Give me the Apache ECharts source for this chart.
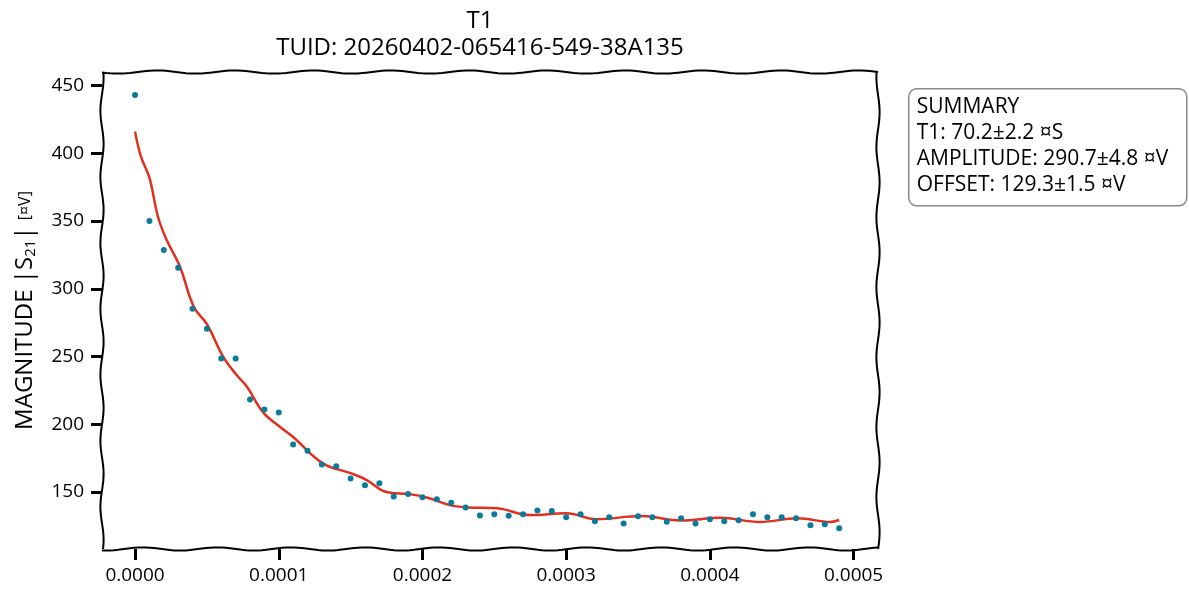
<!DOCTYPE html>
<html>
<head>
<meta charset="utf-8">
<script src="https://cdn.jsdelivr.net/npm/echarts@6/dist/echarts.min.js"></script>
<style>
html,body{margin:0;padding:0;background:#fff;}
#c{width:1189px;height:593px;}
</style>
</head>
<body>
<div id="c"></div>
<script>
// Data (time in seconds, magnitude in ¤V)
const timeS = [0,1e-5,2e-5,3e-5,4e-5,5e-5,6e-5,7e-5,8e-5,9e-5,
  1.0e-4,1.1e-4,1.2e-4,1.3e-4,1.4e-4,1.5e-4,1.6e-4,1.7e-4,1.8e-4,1.9e-4,
  2.0e-4,2.1e-4,2.2e-4,2.3e-4,2.4e-4,2.5e-4,2.6e-4,2.7e-4,2.8e-4,2.9e-4,
  3.0e-4,3.1e-4,3.2e-4,3.3e-4,3.4e-4,3.5e-4,3.6e-4,3.7e-4,3.8e-4,3.9e-4,
  4.0e-4,4.1e-4,4.2e-4,4.3e-4,4.4e-4,4.5e-4,4.6e-4,4.7e-4,4.8e-4,4.9e-4];
const magnitude = [443,350,328.7,315.5,285.3,270.5,248.5,248.5,218.3,210.9,
  208.7,185.1,180.5,170.4,169.1,160.1,155,156.6,146.8,148.5,
  146.1,144.8,142.1,138.7,132.8,133.6,132.6,133.6,136.5,136,
  131.4,133.6,128.4,131.4,126.9,132.1,131.4,128.1,130.6,126.9,
  129.9,128.4,129.2,133.6,131.4,131.4,130.6,125.5,126.2,123.3];
// Fit curve
const fitTime = [0,4e-6,10e-6,16e-6,22e-6,31e-6,41e-6,50e-6,61.5e-6,71e-6,78e-6,89e-6,
  101e-6,110e-6,131e-6,150e-6,161e-6,175e-6,191e-6,203e-6,219e-6,231e-6,252e-6,
  275e-6,300e-6,321e-6,352e-6,380e-6,407e-6,435e-6,461e-6,484e-6,490e-6];
const fitValue = [416,398,382,353,336,317,286.5,274,249.6,236,227.5,209,
  198,190.7,171,164,159,150,148.5,146,140.4,138.7,138,
  133,134.3,130,132.3,129,131,128,130.6,128,129.4];
const yTicks = [150,200,250,300,350,400,450];
const xTicks = [0,0.0001,0.0002,0.0003,0.0004,0.0005];
const titleLines = ['T1','TUID: 20260402-065416-549-38A135'];
const summaryLines = ['SUMMARY','T1: 70.2±2.2 ¤S','AMPLITUDE: 290.7±4.8 ¤V','OFFSET: 129.3±1.5 ¤V'];

const FONT = 'Open Sans';
const chart = echarts.init(document.getElementById('c'), null, {renderer:'canvas'});
const G = {left:102, top:72, width:776, height:477};

// hand-drawn looking frame around the plotting area (decoration only)
function wavyEdge(x0,y0,x1,y1,amp,period,phase){
  const pts=[]; const len=Math.hypot(x1-x0,y1-y0); const n=Math.ceil(len/4);
  const nx=-(y1-y0)/len, ny=(x1-x0)/len;
  for(let i=0;i<=n;i++){
    const f=i/n; const d=amp*Math.sin(f*len/period*2*Math.PI+phase);
    pts.push([x0+(x1-x0)*f+nx*d, y0+(y1-y0)*f+ny*d]);
  }
  return pts;
}
const L=G.left, T=G.top, R=G.left+G.width, B=G.top+G.height;
const frame = [
  wavyEdge(L,T,R,T,1.6,78,0.3),
  wavyEdge(R,T,R,B,1.6,70,1.1),
  wavyEdge(R,B,L,B,1.6,74,2.0),
  wavyEdge(L,B,L,T,1.6,66,0.7)
].map(p=>({type:'polyline', shape:{points:p}, style:{stroke:'#000', lineWidth:2, fill:null}, z:10, silent:true}));

const option = {
  animation:false,
  backgroundColor:'#fff',
  title:{
    text:titleLines.join('\n'),
    left:475, top:3, textAlign:'center',
    textStyle:{fontFamily:FONT, fontSize:24, fontWeight:'normal', color:'#000', lineHeight:27}
  },
  grid:{left:G.left, top:G.top, width:G.width, height:G.height, show:false},
  xAxis:{
    type:'value', min:-0.000023, max:0.000517,
    axisLine:{show:false, onZero:false},
    splitLine:{show:false},
    axisTick:{show:true, customValues:xTicks, length:11, lineStyle:{color:'#000', width:3}},
    axisLabel:{customValues:xTicks, formatter:v=>v.toFixed(4), fontFamily:FONT, fontSize:19, color:'#000', margin:17}
  },
  yAxis:{
    type:'value', min:108, max:460,
    name:'{a|MAGNITUDE |S}{s|21}{a|| }{b|[¤V]}',
    nameLocation:'middle', nameGap:64, nameRotate:90,
    nameTextStyle:{rich:{
      a:{fontFamily:FONT, fontSize:24, color:'#000'},
      s:{fontFamily:FONT, fontSize:15, color:'#000', padding:[10,0,0,0]},
      b:{fontFamily:FONT, fontSize:16, color:'#000'}
    }},
    axisLine:{show:false, onZero:false},
    splitLine:{show:false},
    axisTick:{show:true, customValues:yTicks, length:11, lineStyle:{color:'#000', width:3}},
    axisLabel:{customValues:yTicks, fontFamily:FONT, fontSize:19, color:'#000', margin:18}
  },
  series:[
    {
      type:'scatter', name:'data',
      data:timeS.map((t,i)=>[t,magnitude[i]]),
      symbolSize:6, itemStyle:{color:'#0a7b9b', opacity:1}, z:3
    },
    {
      type:'line', name:'fit',
      data:fitTime.map((t,i)=>[t,fitValue[i]]),
      smooth:0.4, showSymbol:false, lineStyle:{color:'#e0301e', width:2.5}, z:2
    }
  ],
  graphic:[
    ...frame,
    {
      type:'group', left:908, top:88,
      children:[
        {type:'rect', shape:{x:0,y:0,width:278,height:117,r:8}, style:{fill:'#fff', stroke:'#888', lineWidth:1.5}},
        {type:'text', style:{x:8, y:5, text:summaryLines.join('\n'), font:'21px "'+FONT+'"', lineHeight:26, fill:'#000'}}
      ]
    }
  ]
};
chart.setOption(option);
</script>
</body>
</html>
